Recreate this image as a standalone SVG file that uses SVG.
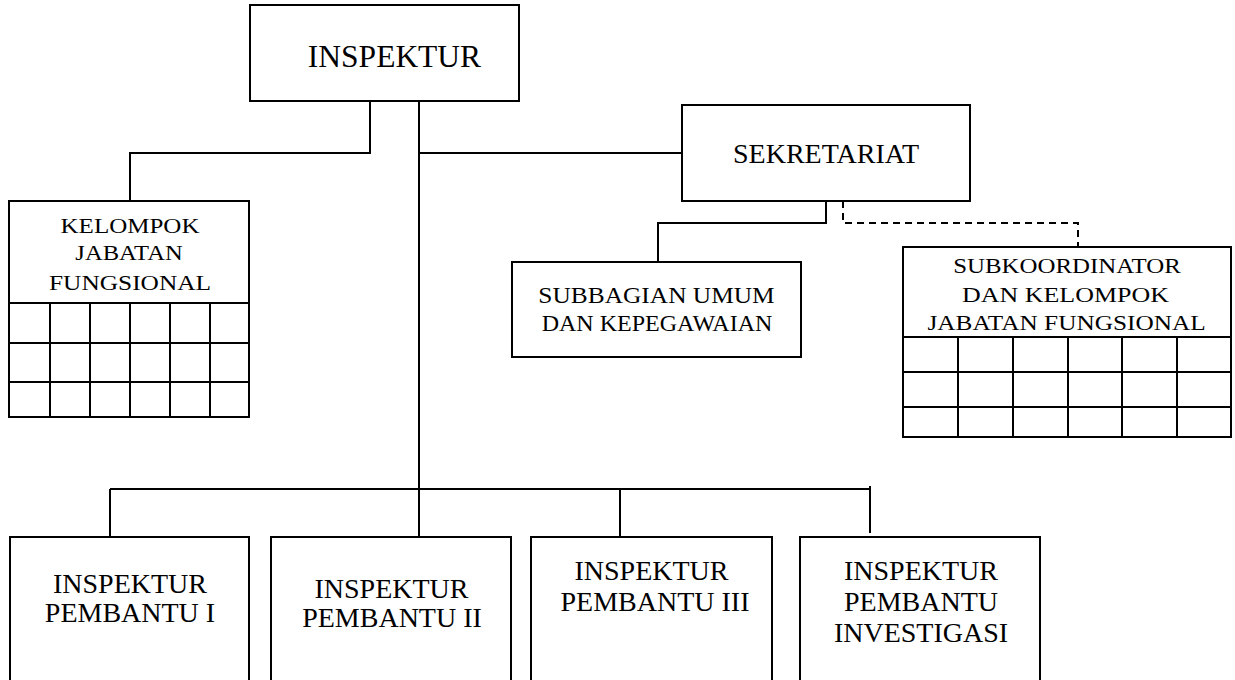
<svg xmlns="http://www.w3.org/2000/svg" width="1235" height="680" viewBox="0 0 1235 680">
<style>
.box{fill:#fff;stroke:#000;stroke-width:2}
.ln{fill:none;stroke:#000;stroke-width:2}
.dash{fill:none;stroke:#000;stroke-width:2;stroke-dasharray:7,5}
text{font-family:"Liberation Serif","Times New Roman",serif;fill:#000;text-anchor:middle}
.big{font-size:28px}
.kj{font-size:22px}
.sb{font-size:23px}
.sk{font-size:21px}
</style>
<rect width="1235" height="680" fill="#fff"/>
<g id="connectors">
<path class="ln" d="M370,101 V153 H130 V201"/>
<path class="ln" d="M419,101 V537"/>
<path class="ln" d="M419,153 H682"/>
<path class="ln" d="M826,201 V223 H658 V262"/>
<path class="dash" d="M843,201 V223 H1078 V247"/>
<path class="ln" d="M110,489 H870"/>
<path class="ln" d="M110,489 V537"/>
<path class="ln" d="M620,489 V537"/>
<path class="ln" d="M870,486 V533"/>
</g>
<g id="inspektur">
<rect class="box" x="250" y="5" width="269" height="96"/>
<text x="394.5" y="67" font-size="31.5">INSPEKTUR</text>
</g>
<g id="sekretariat">
<rect class="box" x="682" y="105" width="288" height="96"/>
<text class="big" x="826" y="163">SEKRETARIAT</text>
</g>
<g id="kelompok-jf">
<rect class="box" x="9" y="201" width="240" height="216"/>
<text class="kj" transform="translate(130,233) scale(1.137,1)">KELOMPOK</text>
<text class="kj" transform="translate(129,260) scale(1.118,1)">JABATAN</text>
<text class="kj" transform="translate(130,290) scale(1.153,1)">FUNGSIONAL</text>
<path class="ln" d="M9,303 H249 M9,343 H249 M9,382 H249 M50,303 V417 M90,303 V417 M130,303 V417 M170,303 V417 M210,303 V417"/>
</g>
<g id="subbagian">
<rect class="box" x="512" y="262" width="289" height="95"/>
<text class="sb" transform="translate(656.5,303) scale(1.104,1)">SUBBAGIAN UMUM</text>
<text class="sb" transform="translate(657,331) scale(1.044,1)">DAN KEPEGAWAIAN</text>
</g>
<g id="subkoordinator">
<rect class="box" x="903" y="247" width="328" height="190"/>
<text class="sk" transform="translate(1067,273) scale(1.186,1)">SUBKOORDINATOR</text>
<text class="sk" transform="translate(1065.5,302) scale(1.237,1)">DAN KELOMPOK</text>
<text class="sk" transform="translate(1066.5,330) scale(1.204,1)">JABATAN FUNGSIONAL</text>
<path class="ln" d="M903,337 H1231 M903,372 H1231 M903,407 H1231 M958,337 V437 M1013,337 V437 M1068,337 V437 M1122,337 V437 M1177,337 V437"/>
</g>
<g id="irban1">
<rect class="box" x="10" y="537" width="239" height="160"/>
<text class="big" x="130" y="593">INSPEKTUR</text>
<text class="big" x="130" y="622">PEMBANTU I</text>
</g>
<g id="irban2">
<rect class="box" x="271" y="537" width="240" height="160"/>
<text class="big" x="391.5" y="598">INSPEKTUR</text>
<text class="big" x="392" y="627">PEMBANTU II</text>
</g>
<g id="irban3">
<rect class="box" x="531" y="537" width="241" height="160"/>
<text class="big" x="651.5" y="580">INSPEKTUR</text>
<text class="big" x="655" y="611">PEMBANTU III</text>
</g>
<g id="irban-investigasi">
<rect class="box" x="800" y="537" width="240" height="160"/>
<text class="big" x="921" y="580">INSPEKTUR</text>
<text class="big" x="921" y="611">PEMBANTU</text>
<text class="big" x="921" y="642">INVESTIGASI</text>
</g>
</svg>
